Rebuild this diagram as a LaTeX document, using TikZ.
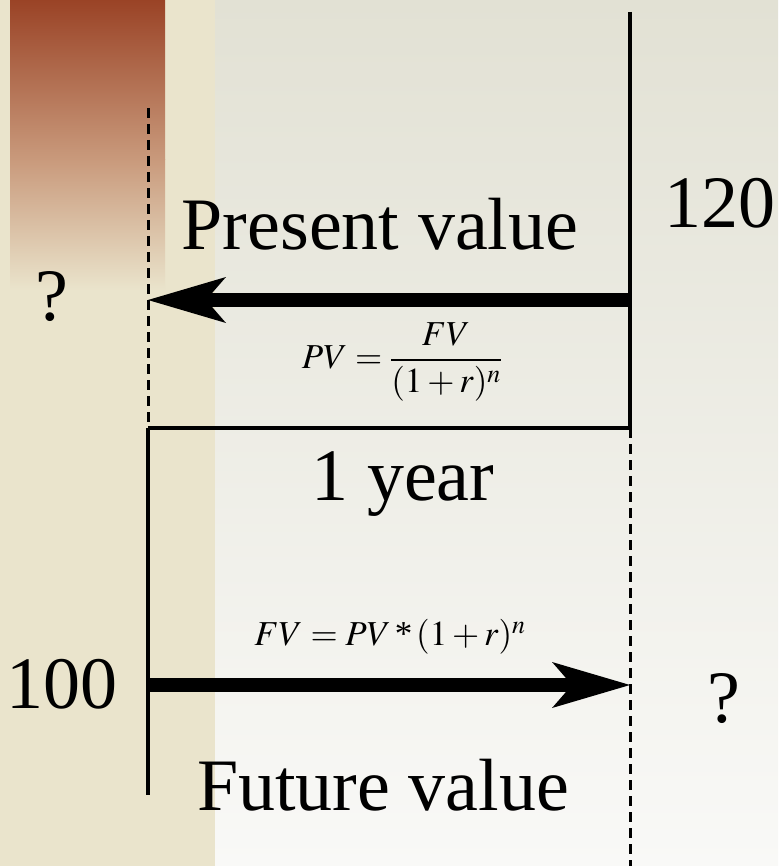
\documentclass[tikz,border=0pt]{standalone}
\usepackage{mathptmx}
\usepackage{fontspec}
\setmainfont{Liberation Serif}
\usepackage{tikz}
\usetikzlibrary{positioning,arrows.meta,calc}

\definecolor{paper}{HTML}{EAE4CC}
\definecolor{rust}{HTML}{9A4326}
\definecolor{rustmid}{HTML}{C99A7C}
\definecolor{slide}{HTML}{E2E1D4}
\definecolor{slidelow}{HTML}{F9F9F7}

\begin{document}
\begin{tikzpicture}[
    x=1pt, y=-1pt,
    big/.style={inner sep=0pt, anchor=base, font=\fontsize{74}{80}\selectfont},
    formula/.style={inner sep=0pt, font=\fontsize{35}{40}\selectfont},
    rule/.style={line width=3.3pt},
    guide/.style={line width=3pt, dash pattern=on 10pt off 6pt},
    flow/.style={line width=14pt, -{Stealth[length=78pt, width=46pt, inset=20pt, line width=0pt]}},
]

% Background
\useasboundingbox (0,0) rectangle (778,866);
\fill[top color=slide, bottom color=slidelow] (215,0) rectangle (778,866);
\fill[paper] (0,0) rectangle (215,866);
\fill[top color=rust, bottom color=rustmid] (10,0) rectangle (165,160);
\fill[top color=rustmid, bottom color=paper] (10,160) rectangle (165,290);

% Timeline corners
\coordinate (nowtop) at (148,108);
\coordinate (nowmid) at (148,428);
\coordinate (nowlow) at (148,795);
\coordinate (latertop) at (630,12);
\coordinate (latermid) at (630,428);
\coordinate (laterlow) at (630,866);

% Timeline
\draw[guide] (nowtop) -- (nowmid);
\draw[rule] (latertop) -- (latermid);
\draw[rule] (nowmid) -- (latermid);
\draw[rule] (nowmid) -- (nowlow);
\draw[guide] (latermid) -- (laterlow);

% Arrows
\coordinate (pvstart) at (630,300);
\coordinate (pvend) at (148,300);
\coordinate (fvstart) at (148,685);
\coordinate (fvend) at (630,685);
\draw[flow] (pvstart) -- (pvend);
\draw[flow] (fvstart) -- (fvend);

% Labels
\node[big] (amount) at (720,228) {120};
\node[big] (pvtitle) at (380,250) {Present value};
\node[big] (unknownpv) at (52,320) {?};
\node[formula] (pvformula) at (402,362) {$\displaystyle PV=\frac{FV}{(1+r)^n}$};
\node[big] (period) at (403,500) {1 year};
\node[formula] (fvformula) at (390,637) {$FV=PV\,\mbox{*}\,(1+r)^n$};
\node[big] (principal) at (62,708) {100};
\node[big] (unknownfv) at (724,722) {?};
\node[big] (fvtitle) at (383,810) {Future value};

\end{tikzpicture}
\end{document}
